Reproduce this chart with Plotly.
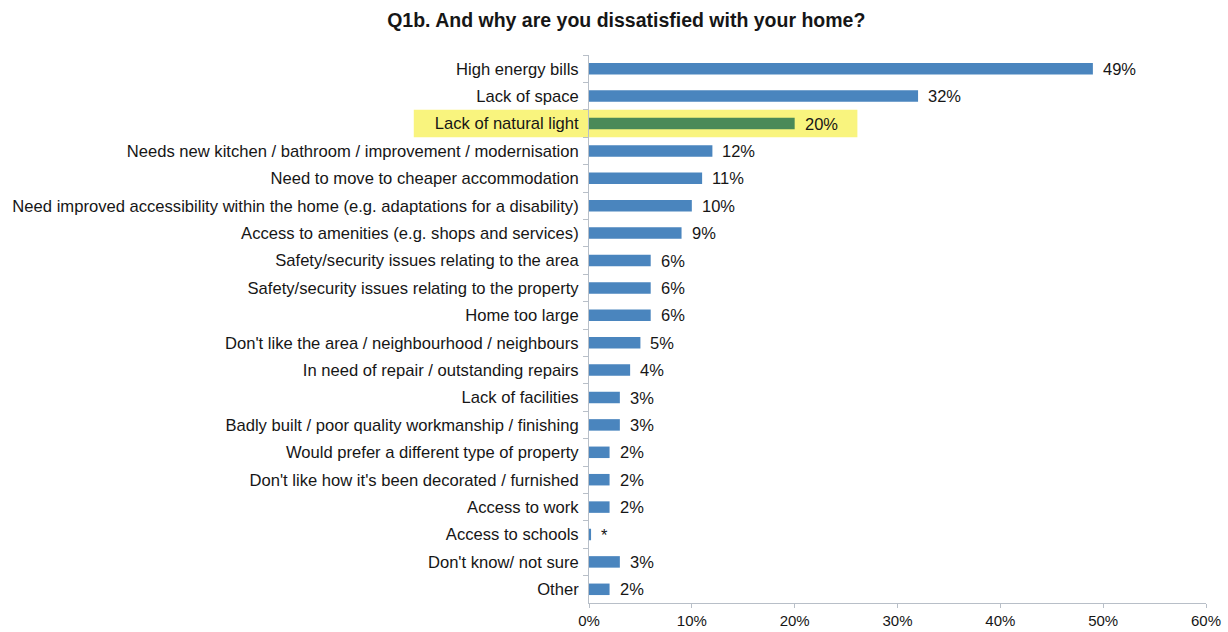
import plotly.graph_objects as go

# Survey responses, in chart order (top to bottom)
reasons = [
    "High energy bills",
    "Lack of space",
    "Lack of natural light",
    "Needs new kitchen / bathroom / improvement / modernisation",
    "Need to move to cheaper accommodation",
    "Need improved accessibility within the home (e.g. adaptations for a disability)",
    "Access to amenities (e.g. shops and services)",
    "Safety/security issues relating to the area",
    "Safety/security issues relating to the property",
    "Home too large",
    "Don't like the area / neighbourhood / neighbours",
    "In need of repair / outstanding repairs",
    "Lack of facilities",
    "Badly built / poor quality workmanship / finishing",
    "Would prefer a different type of property",
    "Don't like how it's been decorated / furnished",
    "Access to work",
    "Access to schools",
    "Don't know/ not sure",
    "Other",
]
shares = [49, 32, 20, 12, 11, 10, 9, 6, 6, 6, 5, 4, 3, 3, 2, 2, 2, 0.2, 3, 2]
share_labels = ["49%", "32%", "20%", "12%", "11%", "10%", "9%", "6%", "6%", "6%",
                "5%", "4%", "3%", "3%", "2%", "2%", "2%", "*", "3%", "2%"]
highlight = "Lack of natural light"
x_ticks = [0, 10, 20, 30, 40, 50, 60]
x_tick_text = ["0%", "10%", "20%", "30%", "40%", "50%", "60%"]

BLUE = "#4a85be"
GREEN = "#4a8a58"
YELLOW = "#f9f47e"
TEXT = "#161616"
FONT = "Liberation Sans, Arial, sans-serif"

colors = [GREEN if r == highlight else BLUE for r in reasons]

fig = go.Figure()
fig.add_trace(go.Bar(
    x=shares,
    y=reasons,
    orientation="h",
    width=0.42,
    marker=dict(color=colors, line=dict(width=0)),
    hoverinfo="x+y",
))

# value labels just past the end of each bar
for r, v, lab in zip(reasons, shares, share_labels):
    fig.add_annotation(
        x=v, y=r, text=lab, xref="x", yref="y",
        xanchor="left", yanchor="middle", xshift=8, showarrow=False,
        font=dict(family=FONT, size=16.5, color=TEXT),
    )

# highlight band behind the natural-light row (spans label and bar)
hi = reasons.index(highlight)
fig.add_shape(
    type="rect", xref="paper", yref="y",
    x0=-0.284, x1=0.435, y0=hi - 0.5, y1=hi + 0.5,
    fillcolor=YELLOW, line=dict(width=0), layer="below",
)

fig.update_layout(
    width=1228, height=632,
    margin=dict(l=589, r=22, t=55, b=29),
    paper_bgcolor="white", plot_bgcolor="white",
    showlegend=False,
    title=dict(
        text="<b>Q1b. And why are you dissatisfied with your home?</b>",
        x=0.51, xanchor="center", y=0.968, yanchor="middle",
        font=dict(family=FONT, size=19.5, color=TEXT),
    ),
    bargap=0.58,
)
fig.update_xaxes(
    range=[0, 60], tickvals=x_ticks, ticktext=x_tick_text,
    showgrid=False, zeroline=False,
    showline=True, linecolor="#b8bfc8", linewidth=1,
    ticks="outside", ticklen=4, tickcolor="#b8bfc8",
    ticklabelstandoff=0,
    tickfont=dict(family=FONT, size=15, color=TEXT),
    fixedrange=True, automargin=False,
)
fig.update_yaxes(
    categoryorder="array", categoryarray=reasons, autorange="reversed",
    showgrid=False, zeroline=False,
    showline=True, linecolor="#b8bfc8", linewidth=1,
    ticks="outside", ticklen=5, tickcolor="#b8bfc8", tickson="boundaries",
    ticklabelstandoff=6,
    tickfont=dict(family=FONT, size=16.6, color=TEXT),
    automargin=False,
)

fig.write_html("out.html")
